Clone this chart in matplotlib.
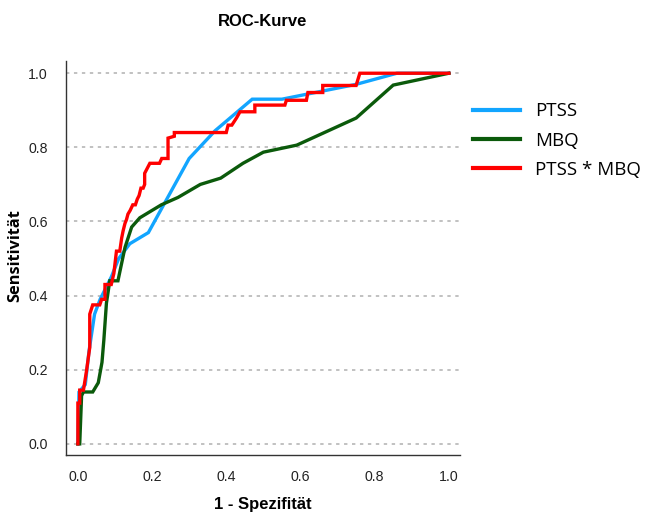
import matplotlib
matplotlib.use("Agg")
import matplotlib.pyplot as plt
from matplotlib import font_manager

# ---- data ----
ptss_fpr = [0.0, 0.003, 0.02, 0.03, 0.045, 0.06, 0.09, 0.11, 0.14, 0.19, 0.30, 0.37, 0.47, 0.55, 0.65, 0.75, 0.86, 1.0]
ptss_tpr = [0.0, 0.14, 0.16, 0.25, 0.35, 0.39, 0.45, 0.50, 0.54, 0.57, 0.77, 0.845, 0.93, 0.93, 0.95, 0.97, 1.0, 1.0]

mbq_fpr = [0.0, 0.005, 0.01, 0.015, 0.04, 0.055, 0.065, 0.07, 0.077, 0.086, 0.108, 0.127, 0.145, 0.167,
           0.225, 0.27, 0.33, 0.385, 0.445, 0.50, 0.59, 0.75, 0.85, 1.0]
mbq_tpr = [0.0, 0.0, 0.13, 0.14, 0.14, 0.165, 0.22, 0.28, 0.38, 0.44, 0.44, 0.53, 0.585, 0.61,
           0.645, 0.665, 0.70, 0.717, 0.757, 0.787, 0.806, 0.879, 0.968, 1.0]

comb_fpr = [0.0, 0.0, 0.005, 0.005, 0.015, 0.023, 0.032, 0.032, 0.04, 0.059, 0.064, 0.073, 0.073, 0.09,
            0.097, 0.104, 0.113, 0.118, 0.122, 0.127, 0.131, 0.135, 0.141, 0.148, 0.155, 0.16, 0.165, 0.17,
            0.176, 0.18, 0.18, 0.194, 0.22, 0.226, 0.243, 0.243, 0.26, 0.26, 0.40, 0.405, 0.415, 0.428,
            0.437, 0.477, 0.477, 0.558, 0.562, 0.616, 0.62, 0.66, 0.66, 0.75, 0.76, 1.0]
comb_tpr = [0.0, 0.11, 0.11, 0.145, 0.145, 0.195, 0.26, 0.35, 0.375, 0.375, 0.39, 0.39, 0.43, 0.43,
            0.46, 0.52, 0.52, 0.555, 0.575, 0.595, 0.605, 0.62, 0.63, 0.645, 0.645, 0.66, 0.67, 0.69,
            0.69, 0.70, 0.73, 0.757, 0.757, 0.77, 0.77, 0.825, 0.83, 0.84, 0.84, 0.86, 0.86, 0.88,
            0.896, 0.896, 0.914, 0.914, 0.927, 0.927, 0.948, 0.948, 0.967, 0.967, 1.0, 1.0]

labels = ["PTSS", "MBQ", "PTSS * MBQ"]
colors = ["#12a5ff", "#0b5a0b", "#ff0000"]
ticks = [0.0, 0.2, 0.4, 0.6, 0.8, 1.0]
tick_labels = ["0.0", "0.2", "0.4", "0.6", "0.8", "1.0"]

names = {f.name for f in font_manager.fontManager.ttflist}
title_font = "Liberation Sans Narrow" if "Liberation Sans Narrow" in names else "Liberation Sans"

fig = plt.figure(figsize=(6.51, 5.12), dpi=100)
ax = fig.add_axes([66 / 651, 1 - 455 / 512, 394 / 651, 394 / 512])

for xs, ys, c, lab in zip([ptss_fpr, mbq_fpr, comb_fpr], [ptss_tpr, mbq_tpr, comb_tpr], colors, labels):
    ax.plot(xs, ys, color=c, lw=2.4, label=lab, solid_joinstyle="miter")

ax.set_xlim(-0.032, 1.03)
ax.set_ylim(-0.03, 1.033)
ax.set_xticks(ticks)
ax.set_xticklabels(tick_labels)
ax.set_yticks(ticks)
ax.set_yticklabels(tick_labels)
ax.tick_params(length=0, labelsize=10.2, colors="#222222")
ax.tick_params(axis="x", pad=11)
ax.tick_params(axis="y", pad=13)
for lab in ax.get_xticklabels() + ax.get_yticklabels():
    lab.set_family("Liberation Sans")
ax.yaxis.grid(True, color="#b0b0b0", linestyle=(0, (2.2, 3.0)), lw=1.1)
ax.set_axisbelow(True)
for s in ["top", "right"]:
    ax.spines[s].set_visible(False)
for s in ["left", "bottom"]:
    ax.spines[s].set_color("#333333")
    ax.spines[s].set_linewidth(1.0)

ax.set_xlabel("1 - Spezifität", fontsize=12, fontweight="bold", family="Liberation Sans")
ax.xaxis.set_label_coords(0.5, -0.107)
ax.set_ylabel("Sensitivität", fontsize=11.8, fontweight="bold", family="Open Sans")
ax.yaxis.set_label_coords(-0.109, 0.505)

fig.text(263 / 651, 1 - 21 / 512, "ROC-Kurve", ha="center", va="center", fontsize=12,
         fontweight="bold", family=title_font)

leg = ax.legend(loc="upper left", bbox_to_anchor=(473 / 651, 1 - 102.5 / 512), bbox_transform=fig.transFigure,
                frameon=False, borderpad=0, borderaxespad=0, handlelength=2.5, handletextpad=0.8,
                labelspacing=0.6, prop={"family": "Open Sans", "size": 13.5})
for line in leg.get_lines():
    line.set_linewidth(3)

fig.savefig("out.png", dpi=100)
